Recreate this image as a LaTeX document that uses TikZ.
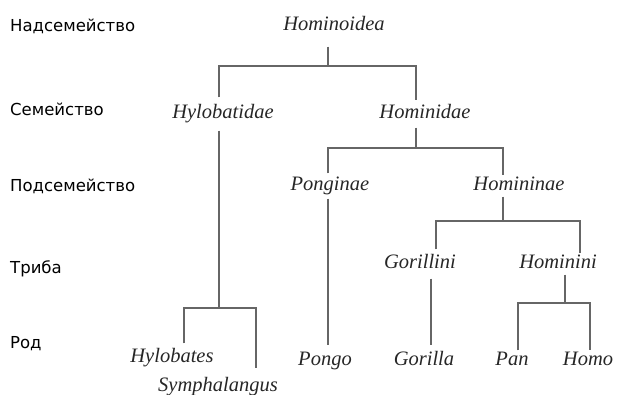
\documentclass[tikz,border=0pt]{standalone}
\usepackage{fontspec}
\setmainfont{Liberation Serif}
\newfontfamily\lblfont{DejaVu Sans}
\begin{document}
\begin{tikzpicture}[x=1pt,y=-1pt,
  tx/.style={font=\fontsize{20.5}{22}\selectfont\itshape, text=black!85, inner xsep=0pt, inner ysep=5pt, text height=13pt, text depth=4pt},
  lv/.style={font=\lblfont\fontsize{16.5}{18}\selectfont, text=black, anchor=west, inner sep=0pt},
  ln/.style={draw=black!60, line width=1.1pt}]
\useasboundingbox (0,0) rectangle (619,395);
% level labels
\node[lv] (l1) at (10,26) {Надсемейство};
\node[lv] (l2) at (10,109) {Семейство};
\node[lv] (l3) at (10,186) {Подсемейство};
\node[lv] (l4) at (10,269) {Триба};
\node[lv] (l5) at (10,344) {Род};
% taxa
\node[tx, inner ysep=12pt] (hoid) at (334,26) {Hominoidea};
\node[tx, inner ysep=8pt] (hylob) at (223,114) {Hylobatidae};
\node[tx] (hida) at (425,114) {Hominidae};
\node[tx, inner ysep=4pt] (pongi) at (330,186) {Ponginae};
\node[tx, inner ysep=2pt] (hinae) at (519,186) {Homininae};
\node[tx, inner ysep=6pt] (gorini) at (420,264) {Gorillini};
\node[tx, inner ysep=2pt] (homini) at (558,264) {Hominini};
\node[tx, inner ysep=6pt] (hylobates) at (172,358) {Hylobates};
\node[tx, inner ysep=10pt] (symph) at (218,387) {Symphalangus};
\node[tx, inner ysep=7pt] (pongo) at (325,361) {Pongo};
\node[tx, inner ysep=7pt] (gorilla) at (424,361) {Gorilla};
\node[tx, inner ysep=2pt] (pan) at (512,361) {Pan};
\node[tx, inner ysep=2pt] (homo) at (588,361) {Homo};
% junctions
\coordinate (J1) at (328,66);
\coordinate (J1l) at (219,66);
\coordinate (J1r) at (416,66);
\coordinate (J2) at (219,308);
\coordinate (J2l) at (184,308);
\coordinate (J2r) at (256,308);
\coordinate (J3) at (416,148);
\coordinate (J3l) at (328,148);
\coordinate (J3r) at (503,148);
\coordinate (J4) at (503,221);
\coordinate (J4l) at (436,221);
\coordinate (J4r) at (580,221);
\coordinate (G) at (431,300);
\coordinate (J5) at (565,303);
\coordinate (J5l) at (518,303);
\coordinate (J5r) at (590,303);
% connectors
\draw[ln] (hoid.south -| J1) -- (J1);
\draw[ln] (hylob.north -| J1l) -- (J1l) -- (J1r) -- (hida.north -| J1r);
\draw[ln] (hylob.south -| J2) -- (J2);
\draw[ln] (hylobates.north -| J2l) -- (J2l) -- (J2r) -- (symph.north -| J2r);
\draw[ln] (hida.south -| J3) -- (J3);
\draw[ln] (pongi.north -| J3l) -- (J3l) -- (J3r) -- (hinae.north -| J3r);
\draw[ln] (pongi.south -| J3l) -- (pongo.north -| J3l);
\draw[ln] (hinae.south -| J4) -- (J4);
\draw[ln] (gorini.north -| J4l) -- (J4l) -- (J4r) -- (homini.north -| J4r);
\draw[ln] (gorini.south -| G) -- (gorilla.north -| G);
\draw[ln] (homini.south -| J5) -- (J5);
\draw[ln] (pan.north -| J5l) -- (J5l) -- (J5r) -- (homo.north -| J5r);
\end{tikzpicture}
\end{document}
